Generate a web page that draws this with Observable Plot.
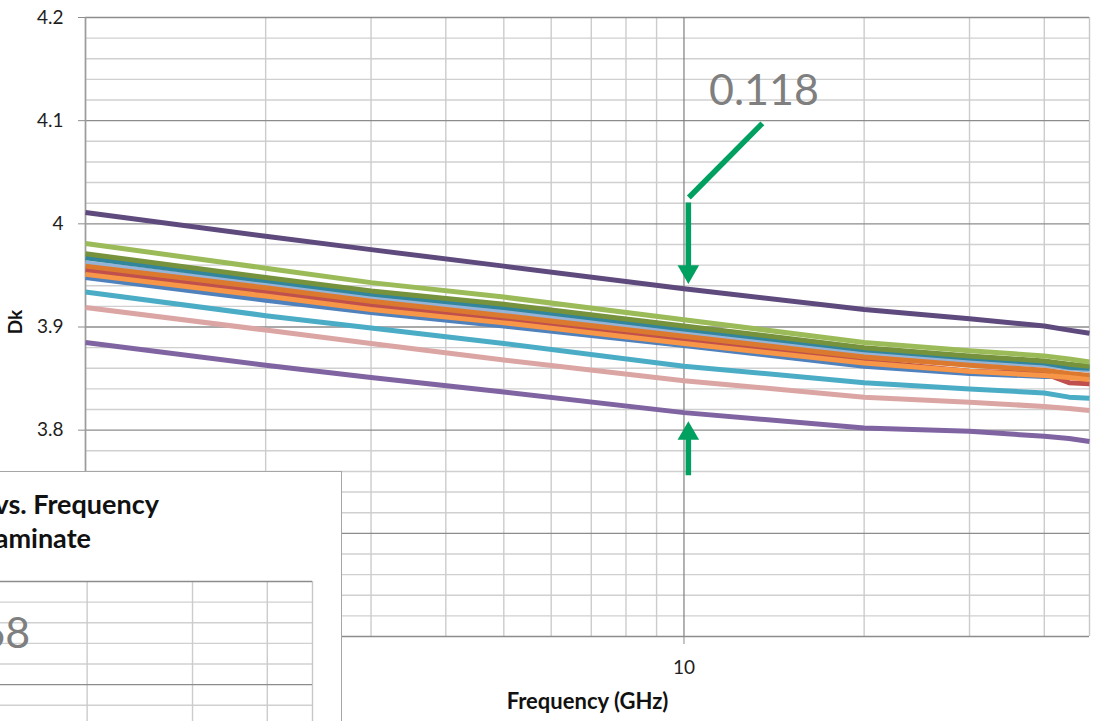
<!DOCTYPE html>
<html><head><meta charset="utf-8">
<script src="https://cdn.jsdelivr.net/npm/d3@7"></script>
<script src="https://cdn.jsdelivr.net/npm/@observablehq/plot@0.6"></script>
<style>
html,body{margin:0;padding:0;background:#fff;}
#wrap{position:relative;width:1096px;height:721px;overflow:hidden;font-family:Lato,"Open Sans",sans-serif;}
#main{position:absolute;left:0;top:0;}
#inset{position:absolute;left:-2px;top:471px;width:344px;height:262px;box-sizing:border-box;border:1.5px solid #a6a6a6;background:#fff;overflow:hidden;}
#insetPlot{position:absolute;left:-776.1px;top:91.5px;}
.ttl{position:absolute;white-space:nowrap;font-weight:700;font-size:27px;line-height:27px;color:#111;}
#t1{right:182px;top:17.6px;}
#t2{right:250px;top:52.2px;}
</style></head>
<body>
<div id="wrap">
  <div id="main"></div>
  <div id="inset">
    <div id="insetPlot"></div>
    <span class="ttl" id="t1">vs. Frequency</span>
    <span class="ttl" id="t2">aminate</span>
  </div>
</div>
<script>
// ---------- data ----------
const freqGHz = [1, 2, 3, 5, 10, 20, 30, 40, 44, 47.6];

const dkPurpleTop    = [4.011, 3.988, 3.975, 3.959, 3.937, 3.917, 3.908, 3.901, 3.897, 3.894];
const dkLightGreen   = [3.981, 3.957, 3.943, 3.929, 3.907, 3.885, 3.877, 3.872, 3.869, 3.866];
const dkDarkGreen    = [3.971, 3.948, 3.935, 3.922, 3.901, 3.880, 3.872, 3.867, 3.864, 3.862];
const dkTeal         = [3.967, 3.945, 3.932, 3.919, 3.898, 3.878, 3.870, 3.865, 3.861, 3.860];
const dkLavender     = [3.962, 3.941, 3.928, 3.915, 3.895, 3.875, 3.867, 3.863, 3.860, 3.858];
const dkDarkOrange   = [3.959, 3.938, 3.925, 3.911, 3.891, 3.871, 3.863, 3.858, 3.855, 3.853];
const dkRed          = [3.955, 3.934, 3.921, 3.908, 3.888, 3.867, 3.857, 3.855, 3.846, 3.845];
const dkOrange       = [3.951, 3.930, 3.917, 3.904, 3.884, 3.865, 3.857, 3.853, 3.851, 3.849];
const dkBlue         = [3.948, 3.926, 3.914, 3.901, 3.882, 3.862, 3.855, 3.852, 3.852, 3.851];
const dkCyan         = [3.934, 3.911, 3.899, 3.884, 3.862, 3.846, 3.840, 3.836, 3.832, 3.831];
const dkPink         = [3.919, 3.897, 3.884, 3.868, 3.848, 3.832, 3.827, 3.823, 3.821, 3.819];
const dkPurpleBottom = [3.885, 3.863, 3.851, 3.837, 3.817, 3.802, 3.799, 3.794, 3.792, 3.789];

const seriesNames  = ["Blue", "Lavender", "Teal", "Dark green", "Light green", "Red", "Dark orange", "Orange", "Cyan", "Pink", "Purple top", "Purple bottom"];
const seriesValues = [dkBlue, dkLavender, dkTeal, dkDarkGreen, dkLightGreen, dkRed, dkDarkOrange, dkOrange, dkCyan, dkPink, dkPurpleTop, dkPurpleBottom];
const seriesColors = ["#4f81bd", "#95b3d7", "#31859c", "#76923c", "#9bbb59", "#c0504d", "#db7a2e", "#f79646", "#4bacc6", "#dba5a4", "#5f4a7d", "#8064a2"];

// tick values; the labels for 3.6, 3.7 and 1 lie under the overlapping inset and are not shown
const yTickValues = [3.6, 3.7, 3.8, 3.9, 4.0, 4.1, 4.2];
const yLabelValues = [3.8, 3.9, 4.0, 4.1, 4.2];
const yTickLabels = ["3.8", "3.9", "4", "4.1", "4.2"];
const yMinorValues = [3.62,3.64,3.66,3.68,3.72,3.74,3.76,3.78,3.82,3.84,3.86,3.88,3.92,3.94,3.96,3.98,4.02,4.04,4.06,4.08,4.12,4.14,4.16,4.18];
const xGridValues = [1, 2, 3, 4, 5, 6, 7, 8, 9, 20, 30, 40];
const xMajorValues = [10];
const xTickValues = [10];
const xTickLabels = ["10"];
const xDomain = [1, 47.6];
const yDomain = [3.6, 4.2];

// annotation (data coordinates)
const gapLabel = [{x: 13.6, y: 4.1286, text: "0.118"}];
const calloutLine = [{x1: 13.52, y1: 4.0974, x2: 10.19, y2: 4.0255}];
const topArrow = [{x: 10.17, from: 4.0207, to: 3.955, tip: 3.9417}];
const bottomArrow = [{x: 10.17, from: 3.7563, to: 3.795, tip: 3.8087}];
const insetLabel = [{x: 16.06, y: 4.1485, text: "68"}];

// ---------- build table ----------
const rows = [];
seriesNames.forEach((name, s) => {
  freqGHz.forEach((f, i) => rows.push({series: name, freq: f, dk: seriesValues[s][i]}));
});

const green = "#00a060";
const fontFamily = "Lato, 'Open Sans', sans-serif";
const lab = (d) => yTickLabels[yLabelValues.findIndex(v => Math.abs(v - d) < 1e-9)];

function gridMarks() {
  return [
    Plot.ruleY(yMinorValues, {stroke: "#d0d0d0", strokeWidth: 1.4}),
    Plot.ruleX(xGridValues, {stroke: "#cccccc", strokeWidth: 1.4}),
    Plot.ruleX([xDomain[1]], {stroke: "#c8c8c8", strokeWidth: 1.4}),
    Plot.ruleY(yTickValues, {stroke: "#8c8c8c", strokeWidth: 1.3}),
    Plot.ruleX(xMajorValues, {stroke: "#7f7f7f", strokeWidth: 1.2}),
  ];
}

const main = Plot.plot({
  width: 1096, height: 721,
  marginTop: 17, marginBottom: 85, marginLeft: 85, marginRight: 7,
  style: {fontFamily, fontSize: "19px", color: "#1e1e1e", background: "white"},
  x: {type: "log", domain: xDomain, axis: null},
  y: {domain: yDomain, axis: null},
  marks: [
    ...gridMarks(),
    Plot.ruleX([xDomain[0]], {stroke: "#9c9c9c", strokeWidth: 1.6}),
    // y tick marks (no text) and y tick labels
    Plot.axisY(yLabelValues, {tickSize: 7, tickFormat: () => "", stroke: "#8c8c8c", label: null}),
    Plot.text(yLabelValues, {y: d => d, text: lab, frameAnchor: "left", textAnchor: "end", lineAnchor: "middle", dx: -22, fontSize: 19, fill: "#1e1e1e"}),
    Plot.axisX(xTickValues, {tickSize: 8, tickPadding: 16, tickFormat: d => xTickLabels[xTickValues.indexOf(d)], stroke: "#8c8c8c", fill: "#1e1e1e", fontSize: 19, label: null}),
    Plot.text(["Dk"], {frameAnchor: "left", dx: -70, dy: -5, rotate: -90, textAnchor: "middle", lineAnchor: "middle", fontWeight: "bold", fontSize: 19, fill: "#111"}),
    Plot.text(["Frequency (GHz)"], {frameAnchor: "bottom", dy: 65, textAnchor: "middle", lineAnchor: "middle", fontWeight: "bold", fontSize: 22, fill: "#111"}),
    ...seriesNames.map((name, s) => Plot.line(rows.filter(r => r.series === name), {
      x: "freq", y: "dk", stroke: seriesColors[s], strokeWidth: 5, strokeLinejoin: "round", strokeLinecap: "butt"
    })),
    Plot.link(calloutLine, {x1: "x1", y1: "y1", x2: "x2", y2: "y2", stroke: green, strokeWidth: 5.5}),
    Plot.link(topArrow, {x1: "x", x2: "x", y1: "from", y2: "to", stroke: green, strokeWidth: 5.5}),
    Plot.dot(topArrow, {x: "x", y: "tip", symbol: "triangle", r: 8, fill: green, rotate: 180, dy: -12.4}),
    Plot.link(bottomArrow, {x1: "x", x2: "x", y1: "from", y2: "to", stroke: green, strokeWidth: 5.5}),
    Plot.dot(bottomArrow, {x: "x", y: "tip", symbol: "triangle", r: 8, fill: green, dy: 12.4}),
    Plot.text(gapLabel, {x: "x", y: "y", text: "text", fontSize: 43, fontWeight: 400, fill: "#7f7f7f"})
  ]
});
document.getElementById("main").append(main);

const inset = Plot.plot({
  width: 1096, height: 721,
  marginTop: 17, marginBottom: 85, marginLeft: 85, marginRight: 7,
  style: {fontFamily, background: "transparent"},
  x: {type: "log", domain: xDomain, axis: null},
  y: {domain: yDomain, axis: null},
  marks: [
    ...gridMarks(),
    Plot.text(insetLabel, {x: "x", y: "y", text: "text", textAnchor: "end", fontSize: 43, fontWeight: 400, fill: "#7f7f7f"})
  ]
});
document.getElementById("insetPlot").append(inset);
</script>
</body></html>
